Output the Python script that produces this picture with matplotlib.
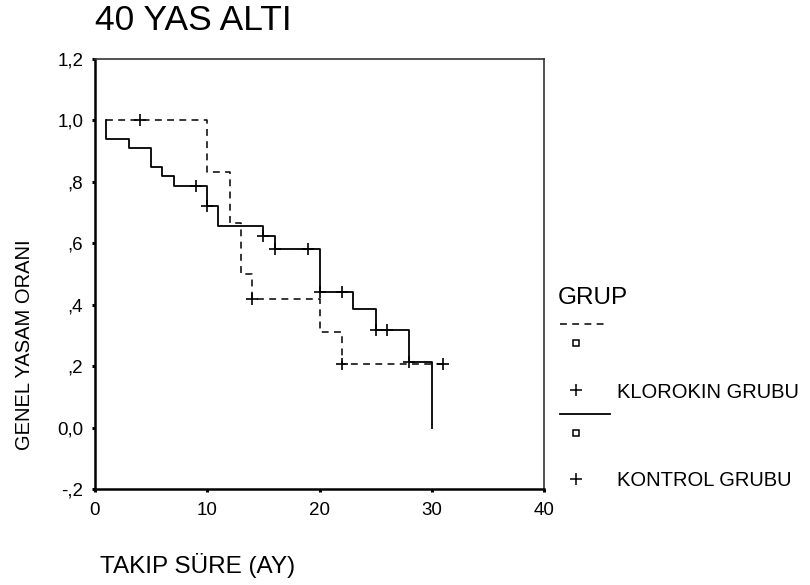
import matplotlib.pyplot as plt
from matplotlib.lines import Line2D

plt.rcParams['font.family'] = ['Liberation Sans', 'DejaVu Sans']

# Kaplan-Meier steps, first point is the start of each curve
kontrol_t = [1, 1, 3, 5, 6, 7, 10, 11, 15, 16, 20, 23, 25, 28, 30]
kontrol_s = [1.0, 0.941, 0.909, 0.848, 0.818, 0.788, 0.722, 0.656, 0.623, 0.581,
             0.443, 0.387, 0.319, 0.213, 0.0]
kontrol_cens_t = [9, 10, 15, 16, 19, 20, 22, 25, 26, 28]
kontrol_cens_s = [0.788, 0.722, 0.623, 0.581, 0.581, 0.443, 0.443, 0.319, 0.319, 0.213]

klorokin_t = [1, 10, 12, 13, 14, 20, 22, 31]
klorokin_s = [1.0, 0.833, 0.667, 0.5, 0.417, 0.3125, 0.208, 0.208]
klorokin_cens_t = [4, 14, 22, 31]
klorokin_cens_s = [1.0, 0.417, 0.208, 0.208]

yticks = [-0.2, 0.0, 0.2, 0.4, 0.6, 0.8, 1.0, 1.2]
ytick_labels = ['-,2', '0,0', ',2', ',4', ',6', ',8', '1,0', '1,2']
xticks = [0, 10, 20, 30, 40]

W, H = 810, 585
fig = plt.figure(figsize=(W / 100, H / 100), dpi=100)
ax = fig.add_axes([95 / W, 1 - 489 / H, 449 / W, 430 / H])

dash = (0, (4.5, 3.5))
ax.step(klorokin_t, klorokin_s, where='post', color='black', lw=1.1, linestyle=dash)
ax.plot(klorokin_cens_t, klorokin_cens_s, '+', color='black', ms=9, mew=1.2)
ax.step(kontrol_t, kontrol_s, where='post', color='black', lw=1.3)
ax.plot(kontrol_cens_t, kontrol_cens_s, '+', color='black', ms=9, mew=1.2)

ax.set_xlim(0, 40)
ax.set_ylim(-0.2, 1.2)
ax.set_xticks(xticks)
ax.set_xticklabels([str(x) for x in xticks])
ax.set_yticks(yticks)
ax.set_yticklabels(ytick_labels)
ax.tick_params(direction='out', length=2.5, width=2.2, labelsize=13.5)
ax.tick_params(axis='x', pad=7)
ax.tick_params(axis='y', pad=6)
for side in ['left', 'bottom']:
    ax.spines[side].set_linewidth(1.8)
for side in ['top', 'right']:
    ax.spines[side].set_linewidth(1.2)
    ax.spines[side].set_color('#333333')

fig.text(95 / W, 1 - 20 / H, '40 YAS ALTI', fontsize=25.5, va='center', ha='left')
fig.text(100 / W, 1 - 566 / H, 'TAKIP SÜRE (AY)', fontsize=17.5, va='center', ha='left')
fig.text(25 / W, 1 - 345 / H, 'GENEL YASAM ORANI', fontsize=14.5, va='center',
         ha='center', rotation=90)

# legend drawn by hand
fig.text(558 / W, 1 - 298 / H, 'GRUP', fontsize=17.5, va='center', ha='left')
fig.add_artist(Line2D([560 / W, 608 / W], [1 - 324 / H] * 2, color='black', lw=1.1,
                      linestyle=dash))
fig.add_artist(Line2D([576 / W], [1 - 343 / H], marker='s', ms=4.5, mfc='white',
                      mec='black', mew=1.1))
fig.add_artist(Line2D([576 / W], [1 - 390 / H], marker='+', ms=9, color='black', mew=1.1))
fig.text(617 / W, 1 - 392 / H, 'KLOROKIN GRUBU', fontsize=14.5, va='center', ha='left')
fig.add_artist(Line2D([560 / W, 610 / W], [1 - 414 / H] * 2, color='black', lw=1.3))
fig.add_artist(Line2D([576 / W], [1 - 433 / H], marker='s', ms=4.5, mfc='white',
                      mec='black', mew=1.1))
fig.add_artist(Line2D([576 / W], [1 - 479 / H], marker='+', ms=9, color='black', mew=1.1))
fig.text(617 / W, 1 - 481 / H, 'KONTROL GRUBU', fontsize=14.5, va='center', ha='left')

fig.savefig('out.png', dpi=100)
